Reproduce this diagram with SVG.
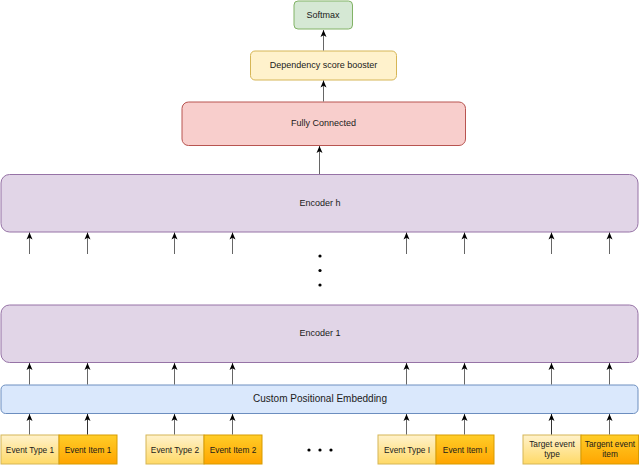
<svg xmlns="http://www.w3.org/2000/svg" width="640" height="465" viewBox="0 0 640 465">
<style>
text{font-family:"Liberation Sans",Arial,sans-serif;fill:#1a1a1a;text-anchor:middle;dominant-baseline:central}
.s9{font-size:9px}
.s8{font-size:8.3px}
.s10{font-size:10px}
.enc{fill:#e1d5e7;stroke:#9673a6;stroke-width:1}
.conn{stroke:#666;stroke-width:1;fill:none;marker-end:url(#ah)}
.dk{stroke:#333}
.dot{fill:#000}
</style>
<defs>
<marker id="ah" markerUnits="userSpaceOnUse" markerWidth="8" markerHeight="8" refX="7" refY="4" orient="auto">
<path d="M0,1 L7,4 L0,7 L1.8,4 Z" fill="#000"/>
</marker>
<linearGradient id="gy" x1="0" y1="0" x2="0" y2="1">
<stop offset="0" stop-color="#fff2cc"/>
<stop offset="1" stop-color="#ffd966"/>
</linearGradient>
<linearGradient id="go" x1="0" y1="0" x2="0" y2="1">
<stop offset="0" stop-color="#ffcd28"/>
<stop offset="1" stop-color="#ffa500"/>
</linearGradient>
</defs>

<g id="softmax">
<rect x="294" y="1" width="58.5" height="28" rx="4" fill="#d5e8d4" stroke="#82b366"/>
<text class="s9" x="323" y="14.5">Softmax</text>
</g>
<g id="booster">
<rect x="250.5" y="51" width="146" height="29" rx="4.5" fill="#fff2cc" stroke="#d6b656"/>
<text class="s9" x="323.5" y="65">Dependency score booster</text>
</g>
<g id="fully-connected">
<rect x="182" y="102" width="283.5" height="43.5" rx="6.5" fill="#f8cecc" stroke="#b85450"/>
<text class="s9" x="323.5" y="123">Fully Connected</text>
</g>
<g id="encoder-h">
<rect class="enc" x="1" y="174.5" width="637" height="57.5" rx="8.5"/>
<text class="s9" x="320" y="202.5">Encoder h</text>
</g>
<g id="vdots">
<circle class="dot" cx="320" cy="256" r="1.6"/>
<circle class="dot" cx="320" cy="270.5" r="1.6"/>
<circle class="dot" cx="320" cy="285" r="1.6"/>
</g>
<g id="encoder-1">
<rect class="enc" x="1" y="305" width="637" height="57.5" rx="8.5"/>
<text class="s9" x="320" y="333">Encoder 1</text>
</g>
<g id="embedding">
<rect x="1" y="385" width="637" height="28.5" rx="4.5" fill="#dae8fc" stroke="#6c8ebf"/>
<text class="s10" x="320" y="398">Custom Positional Embedding</text>
</g>

<g id="event-type-1">
<rect x="1" y="435" width="58" height="29" fill="url(#gy)" stroke="#d6b656"/>
<text class="s8" x="30" y="449.5">Event Type 1</text>
</g>
<g id="event-item-1">
<rect x="59" y="435" width="58" height="29" fill="url(#go)" stroke="#d79b00"/>
<text class="s8" x="88" y="449.5">Event Item 1</text>
</g>
<g id="event-type-2">
<rect x="146" y="435" width="58" height="29" fill="url(#gy)" stroke="#d6b656"/>
<text class="s8" x="175" y="449.5">Event Type 2</text>
</g>
<g id="event-item-2">
<rect x="204" y="435" width="58" height="29" fill="url(#go)" stroke="#d79b00"/>
<text class="s8" x="233" y="449.5">Event Item 2</text>
</g>
<g id="hdots">
<circle class="dot" cx="309" cy="450" r="1.6"/>
<circle class="dot" cx="320" cy="450" r="1.6"/>
<circle class="dot" cx="331" cy="450" r="1.6"/>
</g>
<g id="event-type-i">
<rect x="378" y="435" width="58" height="29" fill="url(#gy)" stroke="#d6b656"/>
<text class="s8" x="407" y="449.5">Event Type I</text>
</g>
<g id="event-item-i">
<rect x="436" y="435" width="58" height="29" fill="url(#go)" stroke="#d79b00"/>
<text class="s8" x="465" y="449.5">Event Item I</text>
</g>
<g id="target-event-type">
<rect x="523" y="435" width="58" height="29" fill="url(#gy)" stroke="#d6b656"/>
<text class="s8" x="552" y="443.5">Target event</text>
<text class="s8" x="552" y="454">type</text>
</g>
<g id="target-event-item">
<rect x="581" y="435" width="57.5" height="29" fill="url(#go)" stroke="#d79b00"/>
<text class="s8" x="610" y="443.5">Targent event</text>
<text class="s8" x="610" y="454">item</text>
</g>

<g id="connectors">
<path class="conn" d="M323.5,50.5 V30"/>
<path class="conn" d="M323.5,101.5 V80.5"/>
<path class="conn" d="M319.5,174 V146"/>
<path class="conn" d="M29.5,254 V232.5"/>
<path class="conn" d="M87.5,254 V232.5"/>
<path class="conn" d="M174.5,254 V232.5"/>
<path class="conn" d="M232.5,254 V232.5"/>
<path class="conn" d="M406.5,254 V232.5"/>
<path class="conn" d="M464.5,254 V232.5"/>
<path class="conn" d="M551.5,254 V232.5"/>
<path class="conn" d="M609.5,254 V232.5"/>
<path class="conn" d="M29.5,384.5 V363"/>
<path class="conn" d="M87.5,384.5 V363"/>
<path class="conn" d="M174.5,384.5 V363"/>
<path class="conn" d="M232.5,384.5 V363"/>
<path class="conn" d="M406.5,384.5 V363"/>
<path class="conn" d="M464.5,384.5 V363"/>
<path class="conn" d="M551.5,384.5 V363"/>
<path class="conn" d="M609.5,384.5 V363"/>
<path class="conn" d="M29.5,434.5 V414"/>
<path class="conn dk" d="M87.5,434.5 V414"/>
<path class="conn" d="M174.5,434.5 V414"/>
<path class="conn" d="M232.5,434.5 V414"/>
<path class="conn" d="M406.5,434.5 V414"/>
<path class="conn" d="M464.5,434.5 V414"/>
<path class="conn dk" d="M551.5,434.5 V414"/>
<path class="conn" d="M609.5,434.5 V414"/>
</g>
</svg>
